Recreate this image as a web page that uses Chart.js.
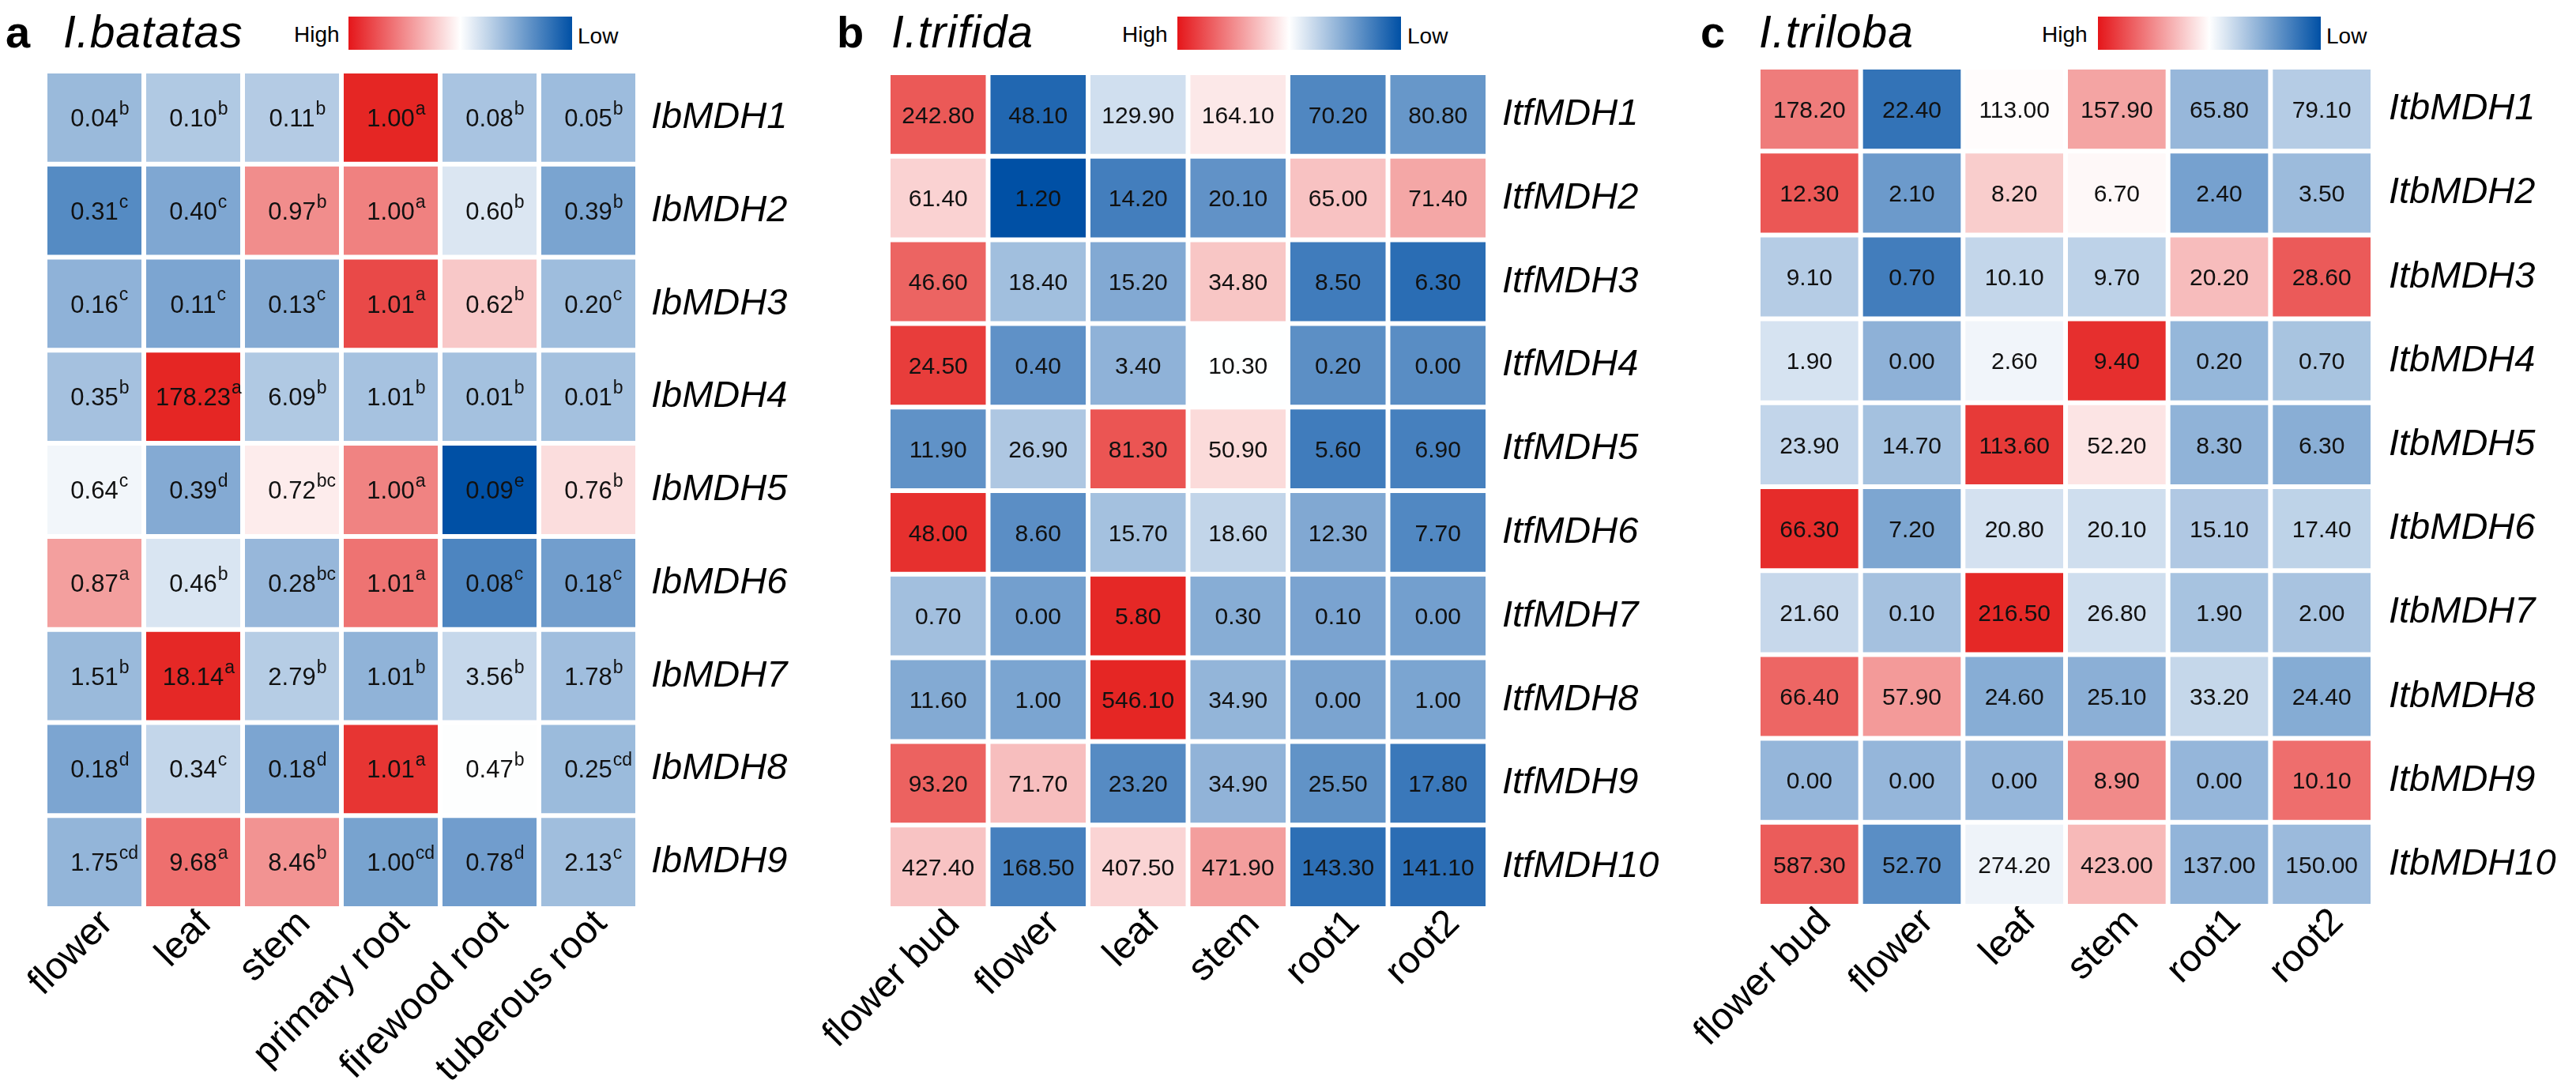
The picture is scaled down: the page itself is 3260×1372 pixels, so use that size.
<!DOCTYPE html>
<html><head><meta charset="utf-8">
<script src="https://cdn.jsdelivr.net/npm/chart.js@4.4.1/dist/chart.umd.min.js"></script>
<style>
html,body{margin:0;padding:0;background:#fff;}
#root{position:relative;width:3260px;height:1372px;overflow:hidden;font-family:'Liberation Sans',Arial,sans-serif;color:#000;}
.lbl{position:absolute;font-weight:bold;font-size:56px;line-height:56px;}
.ttl{position:absolute;font-style:italic;font-size:57px;line-height:57px;letter-spacing:1px;}
.lg{position:absolute;font-size:28px;line-height:28px;}
.bar{position:absolute;top:21px;height:42px;background:linear-gradient(to right, rgb(229,22,26), #ffffff 50%, rgb(0,80,165));}
canvas{position:absolute;top:0;}
</style></head>
<body>
<div id="root">
  <div class="lbl" style="left:7px;top:13px;">a</div>
  <div class="ttl" style="left:80px;top:12px;">I.batatas</div>
  <div class="lg" style="left:372px;top:30px;">High</div>
  <div class="bar" style="left:441px;width:283px;"></div>
  <div class="lg" style="left:731px;top:32px;">Low</div>

  <div class="lbl" style="left:1059px;top:13px;">b</div>
  <div class="ttl" style="left:1128px;top:12px;">I.trifida</div>
  <div class="lg" style="left:1420px;top:30px;">High</div>
  <div class="bar" style="left:1490px;width:283px;"></div>
  <div class="lg" style="left:1781px;top:32px;">Low</div>

  <div class="lbl" style="left:2152px;top:13px;">c</div>
  <div class="ttl" style="left:2226px;top:12px;">I.triloba</div>
  <div class="lg" style="left:2584px;top:30px;">High</div>
  <div class="bar" style="left:2655px;width:282px;"></div>
  <div class="lg" style="left:2944px;top:32px;">Low</div>

  <canvas id="ca" width="1080" height="1372" style="left:0px;width:1080px;height:1372px;"></canvas>
  <canvas id="cb" width="1160" height="1372" style="left:1000px;width:1160px;height:1372px;"></canvas>
  <canvas id="cc" width="1140" height="1372" style="left:2120px;width:1140px;height:1372px;"></canvas>
</div>
<script>
// ---------- data ----------
const tissuesA = ['flower', 'leaf', 'stem', 'primary root', 'firewood root', 'tuberous root'];
const genesA = ['IbMDH1', 'IbMDH2', 'IbMDH3', 'IbMDH4', 'IbMDH5', 'IbMDH6', 'IbMDH7', 'IbMDH8', 'IbMDH9'];
const valuesA = [
  [0.04, 0.10, 0.11, 1.00, 0.08, 0.05],
  [0.31, 0.40, 0.97, 1.00, 0.60, 0.39],
  [0.16, 0.11, 0.13, 1.01, 0.62, 0.20],
  [0.35, 178.23, 6.09, 1.01, 0.01, 0.01],
  [0.64, 0.39, 0.72, 1.00, 0.09, 0.76],
  [0.87, 0.46, 0.28, 1.01, 0.08, 0.18],
  [1.51, 18.14, 2.79, 1.01, 3.56, 1.78],
  [0.18, 0.34, 0.18, 1.01, 0.47, 0.25],
  [1.75, 9.68, 8.46, 1.00, 0.78, 2.13]
];
const lettersA = [
  ['b', 'b', 'b', 'a', 'b', 'b'],
  ['c', 'c', 'b', 'a', 'b', 'b'],
  ['c', 'c', 'c', 'a', 'b', 'c'],
  ['b', 'a', 'b', 'b', 'b', 'b'],
  ['c', 'd', 'bc', 'a', 'e', 'b'],
  ['a', 'b', 'bc', 'a', 'c', 'c'],
  ['b', 'a', 'b', 'b', 'b', 'b'],
  ['d', 'c', 'd', 'a', 'b', 'cd'],
  ['cd', 'a', 'b', 'cd', 'd', 'c']
];

const tissuesB = ['flower bud', 'flower', 'leaf', 'stem', 'root1', 'root2'];
const genesB = ['ItfMDH1', 'ItfMDH2', 'ItfMDH3', 'ItfMDH4', 'ItfMDH5', 'ItfMDH6', 'ItfMDH7', 'ItfMDH8', 'ItfMDH9', 'ItfMDH10'];
const valuesB = [
  [242.80, 48.10, 129.90, 164.10, 70.20, 80.80],
  [61.40, 1.20, 14.20, 20.10, 65.00, 71.40],
  [46.60, 18.40, 15.20, 34.80, 8.50, 6.30],
  [24.50, 0.40, 3.40, 10.30, 0.20, 0.00],
  [11.90, 26.90, 81.30, 50.90, 5.60, 6.90],
  [48.00, 8.60, 15.70, 18.60, 12.30, 7.70],
  [0.70, 0.00, 5.80, 0.30, 0.10, 0.00],
  [11.60, 1.00, 546.10, 34.90, 0.00, 1.00],
  [93.20, 71.70, 23.20, 34.90, 25.50, 17.80],
  [427.40, 168.50, 407.50, 471.90, 143.30, 141.10]
];

const tissuesC = ['flower bud', 'flower', 'leaf', 'stem', 'root1', 'root2'];
const genesC = ['ItbMDH1', 'ItbMDH2', 'ItbMDH3', 'ItbMDH4', 'ItbMDH5', 'ItbMDH6', 'ItbMDH7', 'ItbMDH8', 'ItbMDH9', 'ItbMDH10'];
const valuesC = [
  [178.20, 22.40, 113.00, 157.90, 65.80, 79.10],
  [12.30, 2.10, 8.20, 6.70, 2.40, 3.50],
  [9.10, 0.70, 10.10, 9.70, 20.20, 28.60],
  [1.90, 0.00, 2.60, 9.40, 0.20, 0.70],
  [23.90, 14.70, 113.60, 52.20, 8.30, 6.30],
  [66.30, 7.20, 20.80, 20.10, 15.10, 17.40],
  [21.60, 0.10, 216.50, 26.80, 1.90, 2.00],
  [66.40, 57.90, 24.60, 25.10, 33.20, 24.40],
  [0.00, 0.00, 0.00, 8.90, 0.00, 10.10],
  [587.30, 52.70, 274.20, 423.00, 137.00, 150.00]
];

// colour-key domain (row z-score) of each panel
const zRangeA = [-1.60, 2.04];
const zRangeB = [-1.24, 2.04];
const zRangeC = [-1.75, 2.04];

// ---------- colour scale (row-scaled, like pheatmap scale="row") ----------
const FONT = "'Liberation Sans', Arial, sans-serif";
const LOW = [0, 80, 165], MID = [255, 255, 255], HIGH = [229, 38, 36];

function rowZ(values) {
  return values.map(row => {
    const n = row.length;
    const m = row.reduce((a, b) => a + b, 0) / n;
    const sd = Math.sqrt(row.reduce((a, b) => a + (b - m) * (b - m), 0) / (n - 1)) || 1;
    return row.map(v => (v - m) / sd);
  });
}
function mix(a, b, t) {
  t = Math.max(0, Math.min(1, t));
  return 'rgb(' + a.map((x, i) => Math.round(x + (b[i] - x) * t)).join(',') + ')';
}
function colours(values, range) {
  const z = rowZ(values);
  const lo = range[0], hi = range[1];
  return z.map(r => r.map(v => {
    const t = (v - lo) / (hi - lo);
    return t < 0.5 ? mix(LOW, MID, t / 0.5) : mix(MID, HIGH, (t - 0.5) / 0.5);
  }));
}

function makePanel(canvasId, tissues, genes, values, letters, range, g) {
  const cols = colours(values, range);
  const textPlugin = {
    id: 'cellText',
    afterDatasetsDraw(chart) {
      const ctx = chart.ctx;
      ctx.save();
      chart.data.datasets.forEach((ds, r) => {
        const meta = chart.getDatasetMeta(r);
        meta.data.forEach((el, c) => {
          const cx = el.x, cy = (el.y + el.base) / 2;
          const txt = values[r][c].toFixed(2);
          ctx.font = g.valSize + 'px ' + FONT;
          ctx.fillStyle = '#111';
          ctx.textAlign = 'center';
          ctx.textBaseline = 'alphabetic';
          ctx.fillText(txt, cx, cy + 0.358 * g.valSize);
          if (letters) {
            const w = ctx.measureText(txt).width;
            ctx.font = g.supSize + 'px ' + FONT;
            ctx.textAlign = 'left';
            ctx.fillText(letters[r][c], cx + w / 2 + 1, cy - 4);
          }
        });
      });
      ctx.restore();
    }
  };
  return new Chart(document.getElementById(canvasId), {
    type: 'bar',
    data: {
      labels: tissues,
      datasets: genes.map((name, r) => ({
        label: name,
        data: tissues.map(() => 1),
        backgroundColor: cols[r],
        borderColor: '#ffffff',
        borderWidth: 3,
        borderSkipped: false,
        inflateAmount: 0,
        barPercentage: 1,
        categoryPercentage: 1
      }))
    },
    options: {
      responsive: false,
      devicePixelRatio: 1,
      animation: false,
      events: [],
      layout: { autoPadding: false, padding: { left: g.padL, top: g.padT, right: 0, bottom: 0 } },
      plugins: { legend: { display: false }, tooltip: { enabled: false } },
      scales: {
        x: {
          stacked: true,
          grid: { display: false, drawTicks: false },
          border: { display: false },
          ticks: { autoSkip: false, minRotation: 45, maxRotation: 45, padding: g.xPad, labelOffset: g.xOff,
                   color: '#000', font: { family: FONT, size: 48 } },
          afterFit: s => { s.height = g.xH; }
        },
        y: {
          stacked: true,
          position: 'right',
          min: 0,
          max: genes.length,
          reverse: true,
          grid: { display: false, drawTicks: false },
          border: { display: false },
          afterBuildTicks: s => { s.ticks = genes.map((n, i) => ({ value: i + 0.5 })); },
          ticks: { padding: g.yPad, color: '#000', font: { family: FONT, size: 47, style: 'italic' },
                   callback: v => genes[Math.floor(v)] },
          afterFit: s => { s.width = g.yW; }
        }
      }
    },
    plugins: [textPlugin]
  });
}

makePanel('ca', tissuesA, genesA, valuesA, lettersA, zRangeA,
  { padL: 57, padT: 90, yW: 273, xH: 222, yPad: 17, xPad: -9, xOff: 16, valSize: 31, supSize: 23 });
makePanel('cb', tissuesB, genesB, valuesB, null, zRangeB,
  { padL: 124, padT: 92, yW: 277, xH: 222, yPad: 18, xPad: -9, xOff: 20, valSize: 30, supSize: 23 });
makePanel('cc', tissuesC, genesC, valuesC, null, zRangeC,
  { padL: 105, padT: 85, yW: 257, xH: 225, yPad: 20, xPad: -8, xOff: 20, valSize: 30, supSize: 23 });
</script>
</body></html>
